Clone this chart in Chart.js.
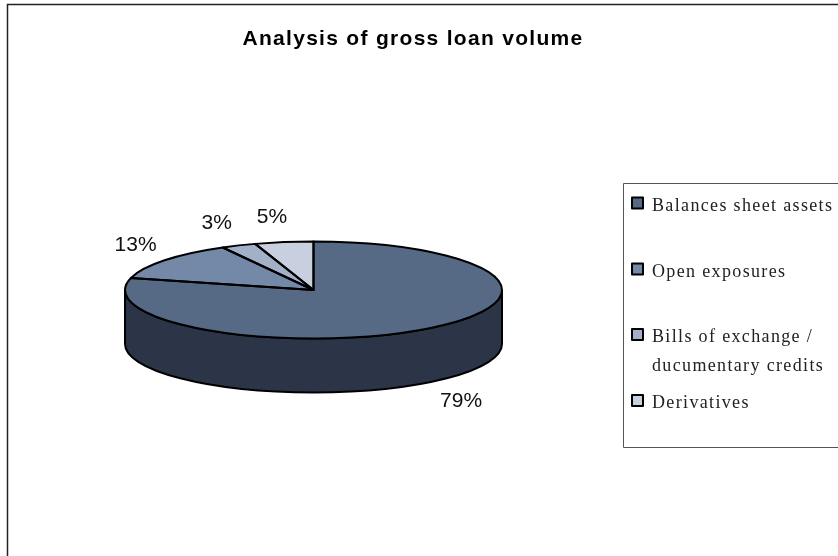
<!DOCTYPE html>
<html>
<head>
<meta charset="utf-8">
<style>
  html, body { margin: 0; padding: 0; background: #fff; }
  #wrap { width: 838px; height: 556px; }
</style>
<script src="https://cdn.jsdelivr.net/npm/chart.js@4"></script>
</head>
<body>
<div id="wrap"><canvas id="chart" width="838" height="556"></canvas></div>
<script>
const chartTitle = 'Analysis of gross loan volume';
const categories = ['Balances sheet assets', 'Open exposures', ['Bills of exchange /', 'ducumentary credits'], 'Derivatives'];
const shares = [79, 13, 3, 5];
const sliceColors = ['#566a85', '#7488a8', '#a3b1c8', '#c8d0e0'];

// Tilted-disc geometry
const TILT = 48.5 / 188.5;
const DEPTH = 54;
const SIDE_COLOR = '#2c3548';
const OUTLINE = 2;

// Label anchors, offset from the rim point at each slice's middle angle
const labelNudge = [[32, 73], [-29, -15], [-22, -22.5], [-12, -24.5]];
const legendBox = { left: 623, top: 183, bottom: 447 };
const legendRowY = [[206], [272], [337.5, 366.5], [403.5]];

function sliceOutline(ctx, arc) {
  const ry = arc.outerRadius * TILT;
  ctx.beginPath();
  ctx.moveTo(arc.x, arc.y);
  ctx.ellipse(arc.x, arc.y, arc.outerRadius, ry, 0, arc.startAngle, arc.endAngle);
  ctx.closePath();
}

const tiltedDisc = {
  id: 'tiltedDisc',
  afterLayout(chart) {
    // The heading sits a little left of the canvas centre
    chart.titleBlock.left = 0;
    chart.titleBlock.right = 826;
  },
  beforeDraw(chart) {
    const ctx = chart.ctx;
    ctx.save();
    ctx.strokeStyle = '#222';
    ctx.lineWidth = 1.5;
    ctx.beginPath();
    ctx.moveTo(7.5, 556);
    ctx.lineTo(7.5, 4.5);
    ctx.lineTo(838, 4.5);
    ctx.stroke();
    ctx.restore();
    ctx.letterSpacing = '1.3px';
  },
  beforeDatasetsDraw(chart) {
    const ctx = chart.ctx;
    ctx.letterSpacing = '0px';
    const arcs = chart.getDatasetMeta(0).data;
    const { x, y, outerRadius: r } = arcs[0];
    const ry = r * TILT;

    // Cylinder wall: only the front half of the rim is visible
    ctx.save();
    ctx.beginPath();
    ctx.ellipse(x, y, r, ry, 0, 0, Math.PI);
    ctx.lineTo(x - r, y + DEPTH);
    ctx.ellipse(x, y + DEPTH, r, ry, 0, Math.PI, 0, true);
    ctx.closePath();
    ctx.fillStyle = SIDE_COLOR;
    ctx.fill();
    ctx.strokeStyle = '#000';
    ctx.lineWidth = OUTLINE;
    ctx.stroke();
    ctx.restore();

    // Squash the circular arcs into the ellipse of the top face
    ctx.save();
    ctx.translate(x, y);
    ctx.scale(1, TILT);
    ctx.translate(-x, -y);
  },
  afterDatasetsDraw(chart) {
    const ctx = chart.ctx;
    ctx.restore();
    const arcs = chart.getDatasetMeta(0).data;

    ctx.save();
    ctx.strokeStyle = '#000';
    ctx.lineWidth = OUTLINE;
    ctx.lineJoin = 'round';
    arcs.forEach(arc => { sliceOutline(ctx, arc); ctx.stroke(); });

    // Percentage labels
    ctx.fillStyle = '#111';
    ctx.font = '21px "Liberation Sans"';
    ctx.textAlign = 'center';
    ctx.textBaseline = 'middle';
    arcs.forEach((arc, i) => {
      const mid = (arc.startAngle + arc.endAngle) / 2;
      const px = arc.x + arc.outerRadius * Math.cos(mid) + labelNudge[i][0];
      const py = arc.y + arc.outerRadius * TILT * Math.sin(mid) + labelNudge[i][1];
      ctx.fillText(shares[i] + '%', px, py);
    });

    // Legend panel, running off the right edge
    ctx.strokeStyle = '#555';
    ctx.lineWidth = 1;
    ctx.beginPath();
    ctx.moveTo(838, legendBox.top + 0.5);
    ctx.lineTo(legendBox.left + 0.5, legendBox.top + 0.5);
    ctx.lineTo(legendBox.left + 0.5, legendBox.bottom + 0.5);
    ctx.lineTo(838, legendBox.bottom + 0.5);
    ctx.stroke();

    ctx.font = '18px "Liberation Serif"';
    ctx.letterSpacing = '1.35px';
    ctx.textAlign = 'left';
    categories.forEach((label, i) => {
      const y0 = legendRowY[i][0];
      ctx.fillStyle = sliceColors[i];
      ctx.fillRect(632, y0 - 8.5, 11, 11);
      ctx.strokeStyle = '#000';
      ctx.lineWidth = 2;
      ctx.strokeRect(632, y0 - 8.5, 11, 11);
      ctx.fillStyle = '#222';
      [].concat(label).forEach((line, k) => ctx.fillText(line, 652, legendRowY[i][k]));
    });
    ctx.letterSpacing = '0px';
    ctx.restore();
  }
};

new Chart(document.getElementById('chart'), {
  type: 'pie',
  data: {
    labels: categories,
    datasets: [{ data: shares, backgroundColor: sliceColors, borderWidth: 0 }]
  },
  options: {
    responsive: false,
    animation: false,
    layout: { padding: { left: 125, right: 336, bottom: 77.5 } },
    plugins: {
      legend: { display: false },
      tooltip: { enabled: false },
      title: {
        display: true,
        text: chartTitle,
        color: '#000',
        font: { family: '"Liberation Sans"', size: 21, weight: 'bold', lineHeight: 1.2 },
        padding: { top: 27, bottom: 49.3 }
      }
    }
  },
  plugins: [tiltedDisc]
});
</script>
</body>
</html>
